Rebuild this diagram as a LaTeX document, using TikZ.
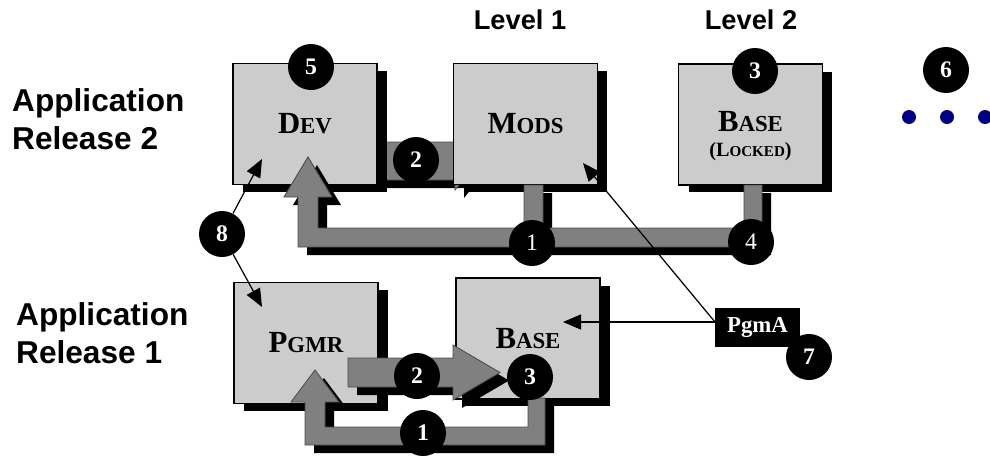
\documentclass[tikz,border=0pt]{standalone}
\usepackage{fontspec}
\setmainfont{Liberation Serif}
\newfontfamily\headfont{Liberation Sans}
\usetikzlibrary{arrows.meta}

\newcommand{\smcap}[2]{{\fontsize{17.5}{20}\selectfont #1}{\fontsize{13}{15}\selectfont #2}}

\tikzstyle{box} = [rectangle, draw=black, line width=0.6pt, fill=black!20, minimum width=2.88cm, minimum height=2.42cm, font=\bfseries, preaction={fill=black, transform canvas={shift={(0.2cm,-0.15cm)}}}]
\tikzstyle{marker} = [circle, fill=black, text=white, minimum size=0.92cm, inner sep=0pt, font=\fontsize{13.5}{15}\selectfont\bfseries]
\tikzstyle{blockarrow} = [draw=black!70, line width=0.5pt, fill=black!50, preaction={fill=black, transform canvas={shift={(0.18cm,-0.16cm)}}}]
\tikzstyle{pointer} = [line width=0.7pt, -{Triangle[length=0.36cm,width=0.3cm]}]
\tikzstyle{heading} = [font=\headfont\bfseries\fontsize{15.5}{18}\selectfont]
\tikzstyle{release} = [font=\headfont\bfseries\fontsize{18}{21.5}\selectfont, align=left, anchor=west]

\begin{document}
\begin{tikzpicture}[x=0.02cm, y=-0.02cm]
        \useasboundingbox (0,0) rectangle (990,464);
        % bar hidden under mods
        \path[blockarrow] (377,142) -- (455,142) -- (455,132) -- (478,161) -- (455,190) -- (455,180) -- (377,180) -- cycle;
        % release 2
        \node (dev) [box] at (305,124) {\smcap{D}{EV}};
        \node (mods) [box] at (525.5,124) {\smcap{M}{ODS}};
        \node (base2) [box] at (750.5,124.5) {};
        \node (locked) [font=\bfseries, align=center] at (750.5,136) {\smcap{B}{ASE}\\[2pt]{\fontsize{11.5}{13}\selectfont(L}{\fontsize{8.6}{10}\selectfont OCKED}{\fontsize{11.5}{13}\selectfont)}};
        % release 1
        \node (pgmr) [box] at (306,343) {\smcap{P}{GMR}};
        \node (base1) [box] at (528,338.5) {\smcap{B}{ASE}};
        \node (pgma) [rectangle, fill=black, text=white, minimum width=1.7cm, minimum height=0.78cm, font=\fontsize{13}{15}\selectfont\bfseries] at (757.5,327.5) {PgmA};
        % block arrows
        \path[blockarrow] (744,185) -- (762,185) -- (762,247) -- (298,247) -- (298,197) -- (284,197) -- (308,157) -- (332,197) -- (318,197) -- (318,228) -- (524,228) -- (524,185) -- (543,185) -- (543,228) -- (744,228) -- cycle;
        \path[blockarrow] (348,358) -- (453,358) -- (453,345) -- (500,372.5) -- (453,400) -- (453,387) -- (348,387) -- cycle;
        \path[blockarrow] (528,398) -- (545,398) -- (545,445) -- (305,445) -- (305,402) -- (291,402) -- (315,370) -- (339,402) -- (325,402) -- (325,427) -- (528,427) -- cycle;
        % numbered markers
        \node (m5) [marker] at (311,67) {5};
        \node (m2a) [marker] at (416,160) {2};
        \node (m3a) [marker] at (755,71) {3};
        \node (m6) [marker] at (946,70) {6};
        \node (m1a) [marker] at (532,243) {\mdseries 1};
        \node (m4) [marker] at (751,242) {\mdseries 4};
        \node (m8) [marker] at (222,234) {8};
        \node (m2b) [marker] at (417,376) {2};
        \node (m3b) [marker] at (530,377) {3};
        \node (m1b) [marker] at (423,433) {1};
        \node (m7) [marker] at (809,357) {7};
        % pointers
        \coordinate (devtip) at (262,159);
        \coordinate (pgmrtip) at (262,307);
        \coordinate (modstip) at (583,163);
        \coordinate (basetip) at (563,322);
        \coordinate (pgmaend) at (715,322);
        \draw [pointer] (m8) -- (devtip);
        \draw [pointer] (m8) -- (pgmrtip);
        \draw [pointer] (pgmaend) -- (modstip);
        \draw [pointer] (pgmaend) -- (basetip);
        % labels
        \node (lvl1) [heading] at (520,20) {Level 1};
        \node (lvl2) [heading] at (751,20) {Level 2};
        \node (rel2) [release] at (6,119) {Application\\Release 2};
        \node (rel1) [release] at (10,333) {Application\\Release 1};
        % more levels
        \foreach \x in {909,947,985}
          \fill[blue!50!black] (\x,117) circle (0.14cm);
      \end{tikzpicture}
\end{document}
